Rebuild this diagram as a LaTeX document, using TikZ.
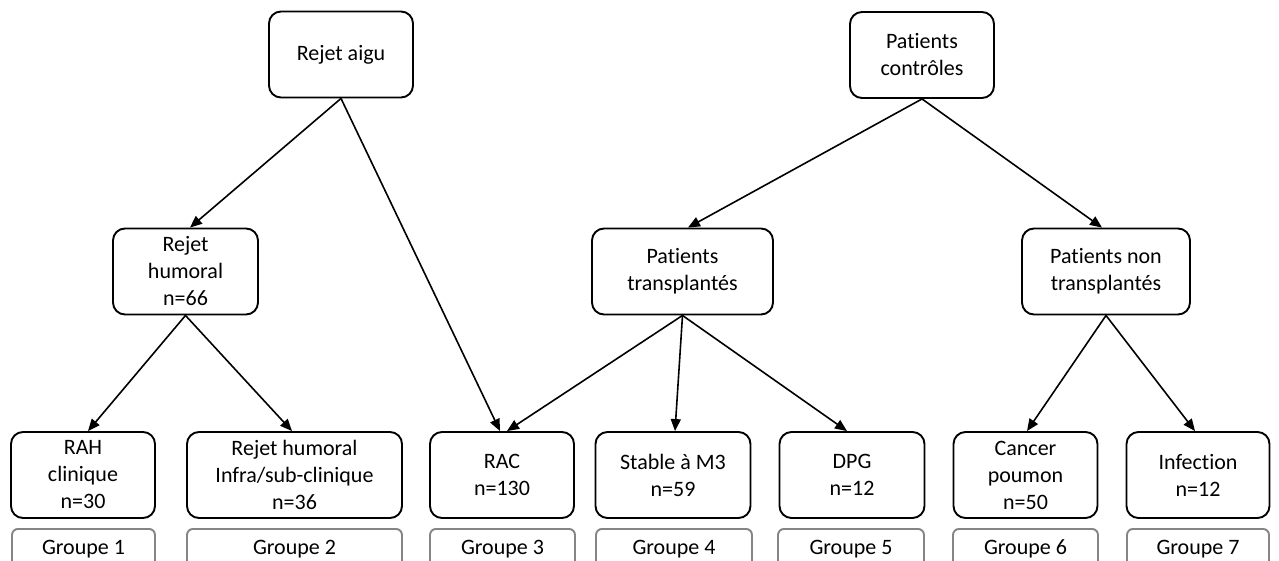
\documentclass[tikz,border=0pt]{standalone}
\usepackage{fontspec}
\setmainfont[Ligatures={NoCommon}]{Carlito}
\usetikzlibrary{arrows.meta,calc}
\begin{document}
\begin{tikzpicture}[x=1pt,y=-1pt,
  box/.style={draw=black,line width=1.9pt,rounded corners=12pt,align=center,inner sep=0pt,
    font=\fontsize{22}{27}\selectfont,minimum height=86pt},
  grp/.style={draw=black!48,line width=1.9pt,rounded corners=6pt,inner sep=0pt,
    font=\fontsize{22}{27}\selectfont,minimum height=40pt},
  arr/.style={line width=1.6pt,-{Triangle[length=12pt,width=10pt]}}]
\useasboundingbox (0,0) rectangle (1279,560);
\begin{scope}
\clip (0,0) rectangle (1279,560);
% top level
\node[box,minimum width=144pt] (ra) at (341,54.5) {Rejet aigu};
\node[box,minimum width=144pt] (pc) at (922,55) {Patients\\contrôles};
% middle level
\node[box,minimum width=145pt] (rh) at (185.5,271.5) {Rejet\\humoral\\n=66};
\node[box,minimum width=181pt] (pt) at (682.5,271.5) {Patients\\transplantés};
\node[box,minimum width=168pt] (pnt) at (1106,271.5) {Patients non\\transplantés};
% bottom level
\node[box,minimum width=144pt] (rah) at (83,475) {RAH\\clinique\\n=30};
\node[box,minimum width=215pt] (rhi) at (294.5,475) {Rejet humoral\\Infra/sub-clinique\\n=36};
\node[box,minimum width=144pt] (rac) at (502,475) {RAC\\n=130};
\node[box,minimum width=155pt] (st) at (673,475) {Stable à M3\\n=59};
\node[box,minimum width=145pt] (dpg) at (852,475) {DPG\\n=12};
\node[box,minimum width=144pt] (can) at (1025.5,475) {Cancer\\poumon\\n=50};
\node[box,minimum width=143pt] (inf) at (1198,475) {Infection\\n=12};
% groups
\node[grp,minimum width=143pt,anchor=north] (g1) at (83.5,528) {Groupe 1};
\node[grp,minimum width=215pt,anchor=north] (g2) at (294.5,528) {Groupe 2};
\node[grp,minimum width=145pt,anchor=north] (g3) at (502.5,528) {Groupe 3};
\node[grp,minimum width=156pt,anchor=north] (g4) at (674,528) {Groupe 4};
\node[grp,minimum width=146pt,anchor=north] (g5) at (851,528) {Groupe 5};
\node[grp,minimum width=145pt,anchor=north] (g6) at (1025.5,528) {Groupe 6};
\node[grp,minimum width=142pt,anchor=north] (g7) at (1198,528) {Groupe 7};
\end{scope}
% connectors
\draw[arr] (ra.south) -- ($(rh.north)+(4.5,0)$);
\draw[arr] (ra.south) -- ($(rac.north)+(-2,0)$);
\draw[arr] (pc.south) -- ($(pt.north)+(5.5,0)$);
\draw[arr] (pc.south) -- ($(pnt.north)+(-4,0)$);
\draw[arr] (rh.south) -- ($(rah.north)+(5,0)$);
\draw[arr] (rh.south) -- ($(rhi.north)+(-2.5,0)$);
\draw[arr] (pt.south) -- ($(rac.north)+(5,0)$);
\draw[arr] (pt.south) -- ($(st.north)+(2,0)$);
\draw[arr] (pt.south) -- ($(dpg.north)+(-5,0)$);
\draw[arr] (pnt.south) -- ($(can.north)+(1.5,0)$);
\draw[arr] (pnt.south) -- ($(inf.north)+(-3,0)$);
\end{tikzpicture}
\end{document}
